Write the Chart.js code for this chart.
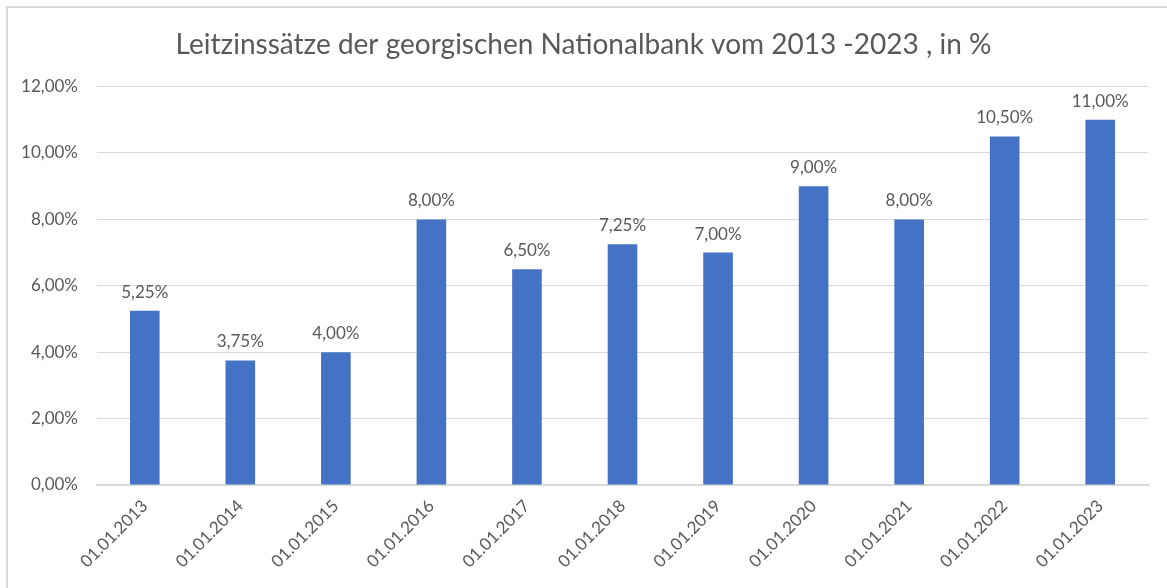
<!DOCTYPE html>
<html>
<head>
<meta charset="utf-8">
<script src="https://cdn.jsdelivr.net/npm/chart.js@4"></script>
<style>
  html, body { margin: 0; padding: 0; background: #fff; overflow: hidden; }
  #wrap { position: relative; width: 1167px; height: 588px; }
  #rahmen { position: absolute; left: 6px; top: 6px; width: 1200px; height: 640px;
            border-left: 2px solid #d9d9d9; border-top: 2px solid #d9d9d9; }
  canvas { position: absolute; left: 0; top: 0; }
</style>
</head>
<body>
<div id="wrap">
  <div id="rahmen"></div>
  <canvas id="leitzinsChart" width="1167" height="588"></canvas>
</div>
<script>
// Daten
var datumLabels = ['01.01.2013', '01.01.2014', '01.01.2015', '01.01.2016', '01.01.2017', '01.01.2018',
    '01.01.2019', '01.01.2020', '01.01.2021', '01.01.2022', '01.01.2023'];
var leitzinsWerte = [5.25, 3.75, 4.00, 8.00, 6.50, 7.25, 7.00, 9.00, 8.00, 10.50, 11.00];
var yTicks = [0, 2, 4, 6, 8, 10, 12];

var textFarbe = '#595959';
var schrift = 'Lato, "Open Sans", sans-serif';

function prozent(v) {
    return v.toFixed(2).replace('.', ',') + '%';
}

// Werte über den Balken schreiben (kein datalabels-Plugin vorhanden)
var wertePlugin = {
    id: 'werte',
    afterDatasetsDraw: function (chart) {
        var ctx = chart.ctx;
        var meta = chart.getDatasetMeta(0);
        ctx.save();
        ctx.font = '17px ' + schrift;
        ctx.fillStyle = textFarbe;
        ctx.textAlign = 'center';
        ctx.textBaseline = 'bottom';
        meta.data.forEach(function (bar, i) {
            ctx.fillText(prozent(leitzinsWerte[i]), bar.x, bar.y - 10);
        });
        ctx.restore();
    }
};

var ctx = document.getElementById('leitzinsChart').getContext('2d');

var leitzinsChart = new Chart(ctx, {
    type: 'bar',
    data: {
        labels: datumLabels,
        datasets: [{
            data: leitzinsWerte,
            backgroundColor: '#4472C4',
            borderWidth: 0,
            categoryPercentage: 1,
            barPercentage: 0.31
        }]
    },
    options: {
        responsive: false,
        animation: false,
        layout: { padding: { left: 19, right: 19, top: 20, bottom: 8 } },
        plugins: {
            legend: { display: false },
            tooltip: { enabled: false },
            title: {
                display: true,
                text: 'Leitzinssätze der georgischen Nationalbank vom 2013 -2023 , in %',
                color: textFarbe,
                font: { family: schrift, size: 28, weight: 'normal' },
                padding: { top: 8, bottom: 25 }
            }
        },
        scales: {
            x: {
                grid: { display: false },
                border: { display: true, color: '#d9d9d9', width: 2 },
                ticks: {
                    color: textFarbe,
                    font: { family: schrift, size: 17 },
                    minRotation: 45,
                    maxRotation: 45,
                    padding: 3
                },
                afterFit: function (scale) { scale.height = 95; }
            },
            y: {
                min: 0,
                max: 12,
                afterBuildTicks: function (scale) {
                    scale.ticks = yTicks.map(function (v) { return { value: v }; });
                },
                grid: { color: '#d9d9d9', lineWidth: 1, drawTicks: false },
                border: { display: false },
                ticks: {
                    color: textFarbe,
                    font: { family: schrift, size: 17 },
                    padding: 19,
                    callback: function (v) { return prozent(v); }
                },
                afterFit: function (scale) { scale.width = 78; }
            }
        }
    },
    plugins: [wertePlugin]
});
</script>
</body>
</html>
